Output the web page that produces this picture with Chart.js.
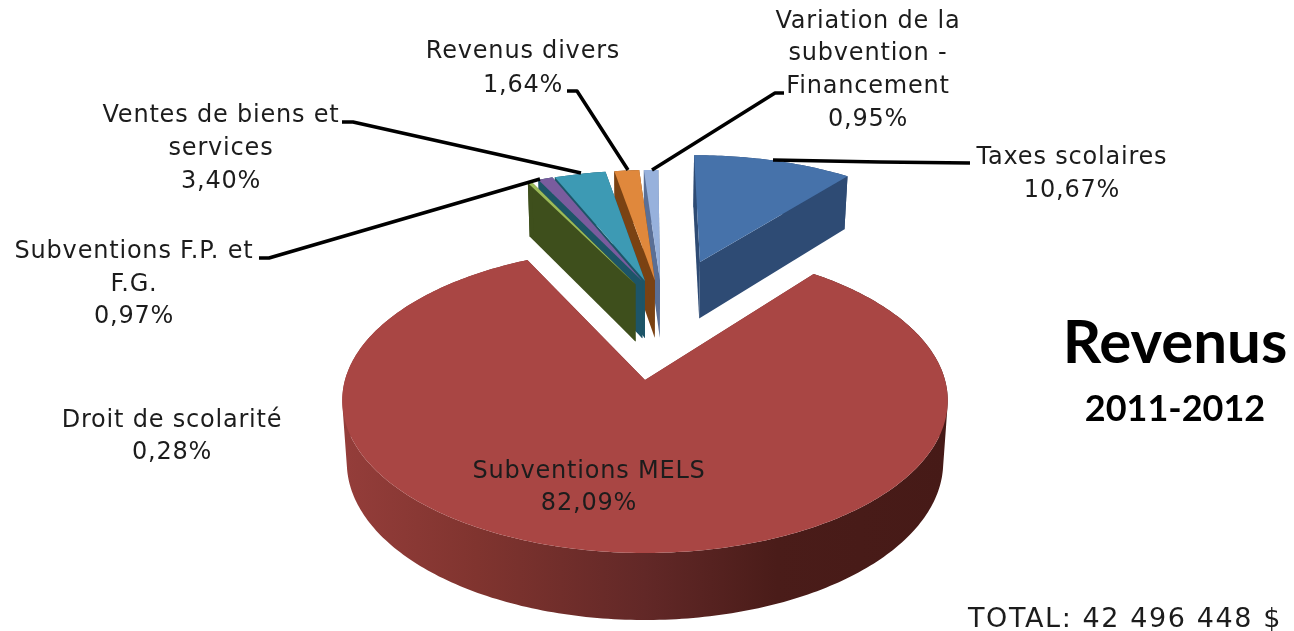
<!DOCTYPE html>
<html lang="fr"><head><meta charset="utf-8">
<style>html,body{margin:0;padding:0;background:#fff}canvas{display:block}</style>
<script src="https://cdn.jsdelivr.net/npm/chart.js@4"></script></head>
<body><canvas id="c" width="1294" height="631"></canvas>
<script>
const categories = ["Taxes scolaires","Subventions MELS","Droit de scolarité","Subventions F.P. et F.G.","Ventes de biens et services","Revenus divers","Variation de la subvention - Financement"];
const shares = [10.67,82.09,0.28,0.97,3.40,1.64,0.95];
const topColors = ["#4672aa","#a94644","#9bbb59","#7a5c9e","#3d9ab4","#e0883c","#97b1dc"];
const wallColors = ["#2e4b74","#7c3230","#3e4f1c","#1d5568","#1d5568","#7a4213","#5a6f96"];
const total = "TOTAL: 42 496 448 $";

// slice displacement in the pie plane (pie radius = 1)
const shiftU = [0.205,0,-0.035,-0.01,0.0,0.036,0.055];
const shiftW = [0.882,0,0.70,0.725,0.725,0.73,0.73];
const paintOrder = [1,0,6,5,4,3,2];

// view: perspective projection of the pie plane
const CX=645, CY=380, AX=300, AY=149.7, K=0.1345, DEPTH=61, K2=0.09, BASE=0.985;
function proj(u,w,low){
  const d=1+K*w; let x=AX*u/d, y=CY-AY*w/d;
  if(low){x*=BASE; y+=DEPTH/(1+K2*w);}
  return [CX+x,y];
}
function trace(ctx,pts){
  pts.forEach((p,i)=>i?ctx.lineTo(p[0],p[1]):ctx.moveTo(p[0],p[1]));
  ctx.closePath();
}
function poly(ctx,pts,fill){
  ctx.beginPath(); trace(ctx,pts); ctx.fillStyle=fill; ctx.fill();
}
function area(q){
  let s=0; q.forEach((p,i)=>{const r=q[(i+1)%q.length]; s+=p[0]*r[1]-r[0]*p[1];}); return s;
}
const perspectivePie={
  id:'perspectivePie',
  beforeDatasetsDraw(chart){
    const ctx=chart.ctx, arcs=chart.getDatasetMeta(0).data;
    paintOrder.forEach(i=>{
      const a=arcs[i], p=a.getProps(['startAngle','endAngle']);
      const ou=shiftU[i], ow=shiftW[i];
      const n=Math.max(3,Math.ceil((p.endAngle-p.startAngle)*60));
      const rim=[];
      for(let j=0;j<=n;j++){const t=p.startAngle+(p.endAngle-p.startAngle)*j/n;
        rim.push([ou+Math.cos(t),ow-Math.sin(t)]);}
      const top=rim.map(q=>proj(q[0],q[1],false)), low=rim.map(q=>proj(q[0],q[1],true));
      const c0=proj(ou,ow,false), c1=proj(ou,ow,true);
      let wall=wallColors[i];
      if(i===1){
        wall=ctx.createLinearGradient(345,0,945,0);
        wall.addColorStop(0,'#943d3a'); wall.addColorStop(.22,'#80342f');
        wall.addColorStop(.5,'#622827'); wall.addColorStop(.72,'#4a1c19'); wall.addColorStop(1,'#461a17');
      }
      // outer wall: every segment wound the same way, filled as one path
      ctx.beginPath();
      for(let j=0;j<n;j++){
        const q=[top[j],top[j+1],low[j+1],low[j]];
        trace(ctx,area(q)<0?q.reverse():q);
      }
      ctx.fillStyle=wall; ctx.fill('nonzero');
      poly(ctx,[c0,top[0],low[0],c1],wallColors[i]);
      poly(ctx,[c0,top[n],low[n],c1],wallColors[i]);
      poly(ctx,[c0,...top],a.options.backgroundColor);
    });
    return false;
  }
};

const labelFont='24px "DejaVu Sans"';
const labelBlocks=[
  {x:1072,lines:[[categories[0],164],["10,67%",197]]},
  {x:589,lines:[[categories[1],478],["82,09%",510]]},
  {x:172,lines:[[categories[2],427],["0,28%",459]]},
  {x:134,lines:[["Subventions F.P. et",258],["F.G.",291],["0,97%",323]]},
  {x:221,lines:[["Ventes de biens et",122],["services",155],["3,40%",188]]},
  {x:523,lines:[[categories[5],58],["1,64%",92]]},
  {x:868,lines:[["Variation de la",28],["subvention -",60],["Financement",93],["0,95%",126]]}
];
const leaders=[
  [[773,160],[880,162],[970,163]],
  [[652,170],[775,93],[784,93]],
  [[628,170],[577,91],[567,91]],
  [[581,173],[353,122],[342,122]],
  [[540,179],[269,258],[259,258]]
];
const textLayer={
  id:'textLayer',
  afterDraw(chart){
    const ctx=chart.ctx; ctx.save();
    ctx.strokeStyle='#000'; ctx.lineWidth=3.5; ctx.lineJoin='round';
    leaders.forEach(l=>{ctx.beginPath();l.forEach((p,i)=>i?ctx.lineTo(p[0],p[1]):ctx.moveTo(p[0],p[1]));ctx.stroke();});
    ctx.fillStyle='#1c1c1c'; ctx.textBaseline='alphabetic'; ctx.textAlign='center';
    ctx.font=labelFont; ctx.letterSpacing='0.8px';
    labelBlocks.forEach(b=>b.lines.forEach(l=>ctx.fillText(l[0],b.x,l[1])));
    ctx.textAlign='left'; ctx.font='27px "DejaVu Sans"'; ctx.letterSpacing='1.6px';
    ctx.fillText(total,968,627);
    ctx.letterSpacing='0px'; ctx.fillStyle='#000'; ctx.textAlign='center';
    ctx.font='bold 60px Lato'; ctx.fillText("Revenus",1175,363);
    ctx.font='bold 36px Lato'; ctx.fillText("2011-2012",1175,421);
    ctx.restore();
  }
};
new Chart(document.getElementById('c'),{
  type:'pie',
  data:{labels:categories,datasets:[{data:shares,backgroundColor:topColors,borderWidth:0}]},
  options:{responsive:false,animation:false,events:[],
    plugins:{legend:{display:false},tooltip:{enabled:false}}},
  plugins:[perspectivePie,textLayer]
});
</script></body></html>
